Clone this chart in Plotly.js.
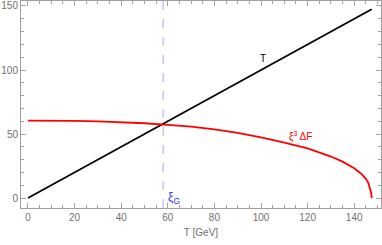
<!DOCTYPE html>
<html>
<head>
<meta charset="utf-8">
<script src="https://cdn.plot.ly/plotly-3.0.1.min.js"></script>
<style>html,body{margin:0;padding:0;background:#fff}#plot{width:382px;height:245px}</style>
</head>
<body>
<div id="plot"></div>
<script>
// Data
const tLine = [0, 147.5];
const yLine = [0, 147.5];
const tCurve = [0, 10, 20, 30, 40, 50, 60, 70, 80, 90, 100, 110, 120, 125, 130, 135, 140, 143, 145, 146, 146.8, 147.3, 147.5];
const yCurve = [60.5, 60.5, 60.3, 59.9, 59.3, 58.4, 57.2, 55.7, 53.6, 50.9, 47.3, 43.3, 38.7, 35.8, 32.4, 28.4, 23.2, 19, 15, 12, 8, 4, 0];
const xiG = [58];
const labelText = ["T", "ξ<sup>3</sup> ΔF", "ξ<sub>G</sub>"];
const labelX = [101, 117, 62.5];
const labelY = [109, 48, 0];

const axisCol = '#a0a0a0';
const fam = 'Liberation Sans, Arial, sans-serif';
const tickFont = {family: fam, size: 10, color: '#707070'};

const traces = [
  {x: tLine, y: yLine, mode: 'lines', line: {color: '#000', width: 1.8}, hoverinfo: 'skip'},
  {x: tCurve, y: yCurve, mode: 'lines', line: {color: '#ff0000', width: 1.8}, hoverinfo: 'skip'}
];

const layout = {
  width: 382, height: 245,
  margin: {l: 21, r: 1, t: 1, b: 37},
  showlegend: false,
  paper_bgcolor: '#fff', plot_bgcolor: '#fff',
  xaxis: {
    range: [-3, 151.5], showgrid: false, zeroline: false,
    showline: true, linecolor: axisCol, linewidth: 1, mirror: 'allticks',
    ticks: 'inside', ticklen: 5, tickcolor: axisCol, tickwidth: 1,
    tick0: 0, dtick: 20, tickfont: tickFont,
    minor: {dtick: 5, tick0: 0, ticks: 'inside', ticklen: 3, tickcolor: axisCol, showgrid: false},
    title: {text: 'T [GeV]', font: {family: fam, size: 10, color: '#707070'}, standoff: 6}
  },
  yaxis: {
    range: [-7.8, 153.9], showgrid: false, zeroline: false,
    showline: true, linecolor: axisCol, linewidth: 1, mirror: 'allticks',
    ticks: 'inside', ticklen: 5, tickcolor: axisCol, tickwidth: 1,
    tick0: 0, dtick: 50, tickfont: tickFont,
    minor: {dtick: 10, tick0: 0, ticks: 'inside', ticklen: 3, tickcolor: axisCol, showgrid: false}
  },
  shapes: [{
    type: 'line', xref: 'x', yref: 'paper', x0: xiG[0], x1: xiG[0], y0: 0, y1: 1,
    line: {color: '#a8a8ee', width: 1, dash: 'dash'}
  }],
  annotations: labelText.map((t, i) => ({
    x: labelX[i], y: labelY[i], xref: 'x', yref: 'y', text: t, showarrow: false,
    font: {family: fam, size: [10, 10, 12][i], color: ['#000', '#ff0000', '#3333ff'][i]}
  }))
};

Plotly.newPlot('plot', traces, layout, {staticPlot: true, displayModeBar: false});
</script>
</body>
</html>
